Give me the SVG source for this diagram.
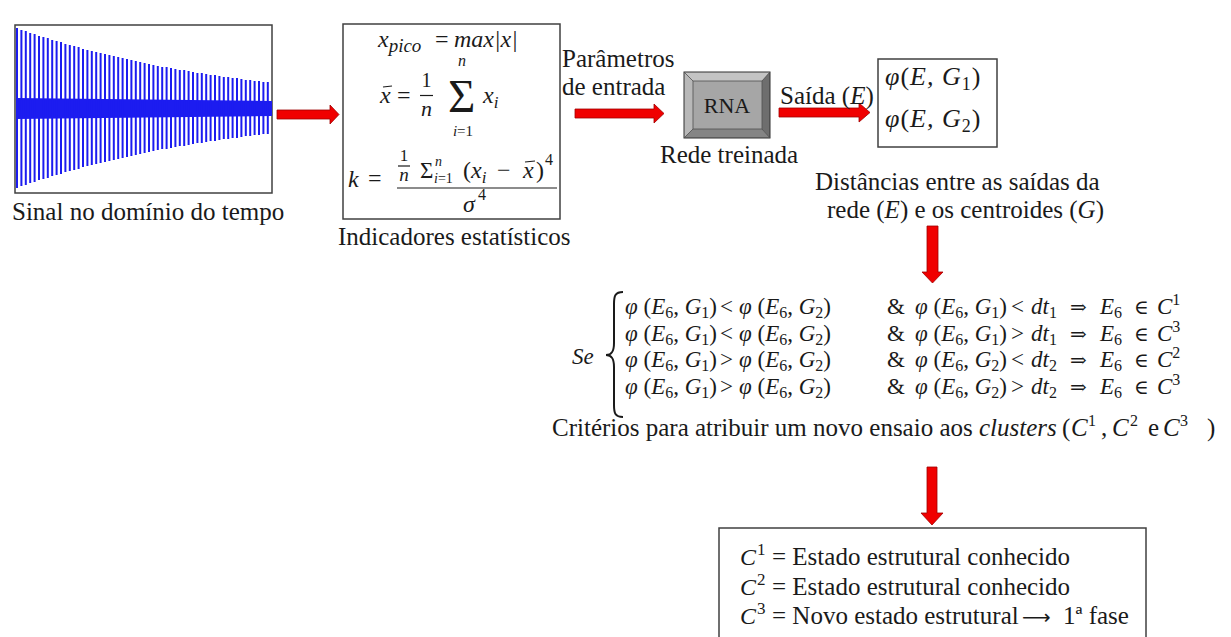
<svg xmlns="http://www.w3.org/2000/svg" width="1231" height="637" viewBox="0 0 1231 637">
<style>
.t{font-family:"Liberation Serif","Times New Roman",serif;font-size:25px;fill:#1a1a1a}
.m{font-family:"Liberation Serif","DejaVu Serif",serif;font-style:italic;fill:#1a1a1a}
.r{font-family:"Liberation Serif","DejaVu Serif",serif;font-style:italic;font-size:23px;fill:#1a1a1a}
.u{font-style:normal}
.s{font-size:16px}
.sym{font-family:"DejaVu Serif",serif;font-style:normal;font-size:20px}
.box{fill:#fff;stroke:#404040;stroke-width:1.5}
.arr{fill:#f00000;stroke:#a00000;stroke-width:0.8}
.ln{stroke:#1a1a1a;stroke-width:1.2}
</style>
<rect width="1231" height="637" fill="#fff"/>

<g id="connectors">
<polygon class="arr" points="277,110 330,110 330,105 339,114.5 330,124 330,119 277,119"/>
<polygon class="arr" points="575,109 654,109 654,104 664,113.5 654,123 654,118 575,118"/>
<polygon class="arr" points="779,108 859,108 859,103 870,112.5 859,122 859,117 779,117"/>
<polygon class="arr" points="927,226 938,226 938,272 943,272 932.5,283 922,272 927,272"/>
<polygon class="arr" points="927,467 937,467 937,513 943,513 932,525 921,513 927,513"/>
</g>

<g id="signal">
<rect class="box" x="15" y="25" width="257" height="168"/>
<polygon points="16,98 272,101 272,116 16,119" fill="#1c1cf0"/>
<path stroke="#1c1cf0" stroke-width="2" fill="none" d="M17 28V188M21.4 30V186M25.8 31V185M30.2 33V183M34.6 34V182M39 36V180M43.4 37V179M47.8 38V178M52.2 40V176M56.6 41V175M61 42V174M65.4 44V172M69.8 45V171M74.2 46V170M78.6 47V169M83 49V167M87.4 50V166M91.8 51V165M96.2 52V164M100.6 53V163M105 54V162M109.4 55V161M113.8 56V160M118.2 57V159M122.6 58V158M127 59V157M131.4 60V156M135.8 61V155M140.2 62V154M144.6 63V153M149 64V152M153.4 65V151M157.8 66V150M162.2 67V149M166.6 67V149M171 68V148M175.4 69V147M179.8 70V146M184.2 70V146M188.6 71V145M193 72V144M197.4 73V143M201.8 73V143M206.2 74V142M210.6 75V141M215 75V141M219.4 76V140M223.8 77V139M228.2 77V139M232.6 78V138M237 78V138M241.4 79V137M245.8 80V136M250.2 80V136M254.6 81V135M259 81V135M263.4 82V134M267.8 82V134"/>
<text class="t" x="12" y="220">Sinal no domínio do tempo</text>
</g>

<g id="stats">
<rect class="box" x="343" y="24" width="217" height="195"/>
<text class="m" font-size="24" x="378" y="47">x<tspan font-size="19" dy="5">pico</tspan><tspan class="u" x="435" dy="-5">=</tspan><tspan x="454">max|x|</tspan></text>
<text class="m" font-size="24" x="380" y="103">x<tspan class="u" x="397">=</tspan></text>
<line class="ln" x1="383" y1="87" x2="392" y2="86"/>
<text class="t" style="font-size:20px" x="426.5" y="87" text-anchor="middle">1</text>
<line class="ln" x1="420" y1="95.5" x2="433" y2="95.5"/>
<text class="m" font-size="22" x="426.5" y="116" text-anchor="middle">n</text>
<text class="t" style="font-size:47px" x="448" y="112">Σ</text>
<text class="m" font-size="16" x="462" y="66" text-anchor="middle">n</text>
<text class="m" font-size="15" x="463" y="136" text-anchor="middle">i<tspan class="u">=1</tspan></text>
<text class="m" font-size="24" x="483" y="103">x<tspan font-size="17" dy="5">i</tspan></text>
<text class="m" font-size="24" x="348" y="187">k<tspan class="u" x="368" dy="-1">=</tspan></text>
<line class="ln" x1="397" y1="188" x2="557" y2="188"/>
<text class="t" style="font-size:17px" x="404" y="161" text-anchor="middle">1</text>
<line class="ln" x1="398" y1="166" x2="410" y2="166"/>
<text class="m" font-size="19" x="404" y="181" text-anchor="middle">n</text>
<text class="t" style="font-size:23px" x="420" y="178">Σ</text>
<text class="m" font-size="14" x="435" y="166">n</text>
<text class="m" font-size="14" x="434" y="183">i<tspan class="u">=1</tspan></text>
<text class="m" font-size="24" x="463" y="178"><tspan class="u">(</tspan>x<tspan font-size="17" dy="5">i</tspan><tspan class="u" x="497" dy="-5">−</tspan><tspan x="523">x</tspan><tspan class="u" x="536">)</tspan><tspan class="u" font-size="16" x="545" dy="-13">4</tspan></text>
<line class="ln" x1="525" y1="162" x2="535" y2="161"/>
<text class="m" font-size="24" x="463" y="212">σ<tspan class="u" font-size="16" x="478" dy="-12">4</tspan></text>
<text class="t" x="338" y="245">Indicadores estatísticos</text>
</g>

<g id="params">
<text class="t" x="562" y="67">Parâmetros</text>
<text class="t" x="562" y="95">de entrada</text>
</g>

<g id="rna">
<rect x="684" y="72" width="86" height="66" fill="#a6a6a6"/>
<polygon points="684,72 770,72 762,81 693,81" fill="#c4c4c4"/>
<polygon points="684,72 693,81 693,129 684,138" fill="#b8b8b8"/>
<polygon points="770,72 770,138 762,129 762,81" fill="#6e6e6e"/>
<polygon points="684,138 693,129 762,129 770,138" fill="#858585"/>
<rect x="684" y="72" width="86" height="66" fill="none" stroke="#303030" stroke-width="1"/>
<rect x="693" y="81" width="69" height="48" fill="none" stroke="#505050" stroke-width="0.8"/>
<path d="M684 72L693 81M770 72L762 81M684 138L693 129M770 138L762 129" stroke="#505050" stroke-width="0.8"/>
<text class="t" style="font-size:22px" x="727" y="113" text-anchor="middle">RNA</text>
<text class="t" x="660" y="163">Rede treinada</text>
</g>

<g id="saida">
<text class="t" x="780" y="104">Saída (<tspan font-style="italic">E</tspan>)</text>
</g>

<g id="dist">
<rect class="box" x="878" y="59" width="119" height="88"/>
<text class="m" font-size="26" letter-spacing="1" x="885" y="85">φ<tspan class="u">(</tspan>E, G<tspan class="u" font-size="18" dy="5">1</tspan><tspan class="u" dy="-5">)</tspan></text>
<text class="m" font-size="26" letter-spacing="1" x="885" y="127">φ<tspan class="u">(</tspan>E, G<tspan class="u" font-size="18" dy="5">2</tspan><tspan class="u" dy="-5">)</tspan></text>
<text class="t" x="815" y="190">Distâncias entre as saídas da</text>
<text class="t" x="827" y="218">rede (<tspan font-style="italic">E</tspan>) e os centroides (<tspan font-style="italic">G</tspan>)</text>
</g>

<g id="criteria">
<text class="m" font-size="23" x="572" y="364">Se</text>
<path d="M623 292C615 292 614 296 614 304L614 343C614 351 612 355 606 355C612 355 614 359 614 367L614 405C614 413 615 417 623 417" fill="none" stroke="#1a1a1a" stroke-width="2"/>

<text class="r" x="625" y="314">φ<tspan class="u"> (</tspan>E<tspan class="u s" dy="4">6</tspan><tspan class="u" dy="-4">, </tspan>G<tspan class="u s" dy="4">1</tspan><tspan class="u" dy="-4">)</tspan><tspan class="u" x="720">&lt;</tspan><tspan x="739">φ</tspan><tspan class="u"> (</tspan>E<tspan class="u s" dy="4">6</tspan><tspan class="u" dy="-4">, </tspan>G<tspan class="u s" dy="4">2</tspan><tspan class="u" dy="-4">)</tspan><tspan class="u" x="887">&amp;</tspan><tspan x="915">φ</tspan><tspan class="u"> (</tspan>E<tspan class="u s" dy="4">6</tspan><tspan class="u" dy="-4">, </tspan>G<tspan class="u s" dy="4">1</tspan><tspan class="u" dy="-4">)</tspan><tspan class="u" x="1011">&lt;</tspan><tspan x="1031">dt</tspan><tspan class="u s" dy="4">1</tspan><tspan class="sym" x="1070" dy="-4">⇒</tspan><tspan x="1100">E</tspan><tspan class="u s" dy="4">6</tspan><tspan class="sym" x="1134" dy="-4">∈</tspan><tspan x="1157">C</tspan><tspan class="u s" dy="-9">1</tspan></text>

<text class="r" x="625" y="341">φ<tspan class="u"> (</tspan>E<tspan class="u s" dy="4">6</tspan><tspan class="u" dy="-4">, </tspan>G<tspan class="u s" dy="4">1</tspan><tspan class="u" dy="-4">)</tspan><tspan class="u" x="720">&lt;</tspan><tspan x="739">φ</tspan><tspan class="u"> (</tspan>E<tspan class="u s" dy="4">6</tspan><tspan class="u" dy="-4">, </tspan>G<tspan class="u s" dy="4">2</tspan><tspan class="u" dy="-4">)</tspan><tspan class="u" x="887">&amp;</tspan><tspan x="915">φ</tspan><tspan class="u"> (</tspan>E<tspan class="u s" dy="4">6</tspan><tspan class="u" dy="-4">, </tspan>G<tspan class="u s" dy="4">1</tspan><tspan class="u" dy="-4">)</tspan><tspan class="u" x="1011">&gt;</tspan><tspan x="1031">dt</tspan><tspan class="u s" dy="4">1</tspan><tspan class="sym" x="1070" dy="-4">⇒</tspan><tspan x="1100">E</tspan><tspan class="u s" dy="4">6</tspan><tspan class="sym" x="1134" dy="-4">∈</tspan><tspan x="1157">C</tspan><tspan class="u s" dy="-9">3</tspan></text>

<text class="r" x="625" y="367">φ<tspan class="u"> (</tspan>E<tspan class="u s" dy="4">6</tspan><tspan class="u" dy="-4">, </tspan>G<tspan class="u s" dy="4">1</tspan><tspan class="u" dy="-4">)</tspan><tspan class="u" x="720">&gt;</tspan><tspan x="739">φ</tspan><tspan class="u"> (</tspan>E<tspan class="u s" dy="4">6</tspan><tspan class="u" dy="-4">, </tspan>G<tspan class="u s" dy="4">2</tspan><tspan class="u" dy="-4">)</tspan><tspan class="u" x="887">&amp;</tspan><tspan x="915">φ</tspan><tspan class="u"> (</tspan>E<tspan class="u s" dy="4">6</tspan><tspan class="u" dy="-4">, </tspan>G<tspan class="u s" dy="4">2</tspan><tspan class="u" dy="-4">)</tspan><tspan class="u" x="1011">&lt;</tspan><tspan x="1031">dt</tspan><tspan class="u s" dy="4">2</tspan><tspan class="sym" x="1070" dy="-4">⇒</tspan><tspan x="1100">E</tspan><tspan class="u s" dy="4">6</tspan><tspan class="sym" x="1134" dy="-4">∈</tspan><tspan x="1157">C</tspan><tspan class="u s" dy="-9">2</tspan></text>

<text class="r" x="625" y="394">φ<tspan class="u"> (</tspan>E<tspan class="u s" dy="4">6</tspan><tspan class="u" dy="-4">, </tspan>G<tspan class="u s" dy="4">1</tspan><tspan class="u" dy="-4">)</tspan><tspan class="u" x="720">&gt;</tspan><tspan x="739">φ</tspan><tspan class="u"> (</tspan>E<tspan class="u s" dy="4">6</tspan><tspan class="u" dy="-4">, </tspan>G<tspan class="u s" dy="4">2</tspan><tspan class="u" dy="-4">)</tspan><tspan class="u" x="887">&amp;</tspan><tspan x="915">φ</tspan><tspan class="u"> (</tspan>E<tspan class="u s" dy="4">6</tspan><tspan class="u" dy="-4">, </tspan>G<tspan class="u s" dy="4">2</tspan><tspan class="u" dy="-4">)</tspan><tspan class="u" x="1011">&gt;</tspan><tspan x="1031">dt</tspan><tspan class="u s" dy="4">2</tspan><tspan class="sym" x="1070" dy="-4">⇒</tspan><tspan x="1100">E</tspan><tspan class="u s" dy="4">6</tspan><tspan class="sym" x="1134" dy="-4">∈</tspan><tspan x="1157">C</tspan><tspan class="u s" dy="-9">3</tspan></text>

<text class="t" x="552" y="436">Critérios para atribuir um novo ensaio aos <tspan font-style="italic">clusters</tspan><tspan x="1062">(</tspan><tspan font-style="italic" x="1071">C</tspan><tspan font-size="16" x="1088" dy="-10">1</tspan><tspan x="1101" dy="10">,</tspan><tspan font-style="italic" x="1112">C</tspan><tspan font-size="16" x="1130" dy="-10">2</tspan><tspan x="1148" dy="10">e</tspan><tspan font-style="italic" x="1163">C</tspan><tspan font-size="16" x="1180" dy="-10">3</tspan><tspan x="1207" dy="10">)</tspan></text>
</g>

<g id="result">
<rect class="box" x="719" y="528" width="427" height="115"/>
<text class="t" x="740" y="565"><tspan class="m" font-size="24">C</tspan><tspan font-size="17" x="757" dy="-10">1</tspan><tspan x="772" dy="10">= Estado estrutural conhecido</tspan></text>
<text class="t" x="740" y="595"><tspan class="m" font-size="24">C</tspan><tspan font-size="17" x="757" dy="-10">2</tspan><tspan x="772" dy="10">= Estado estrutural conhecido</tspan></text>
<text class="t" x="740" y="624"><tspan class="m" font-size="24">C</tspan><tspan font-size="17" x="757" dy="-10">3</tspan><tspan x="772" dy="10">= Novo estado estrutural</tspan><tspan x="1022" font-family="DejaVu Sans" font-size="20">⟶</tspan><tspan x="1063">1ª fase</tspan></text>
</g>
</svg>
